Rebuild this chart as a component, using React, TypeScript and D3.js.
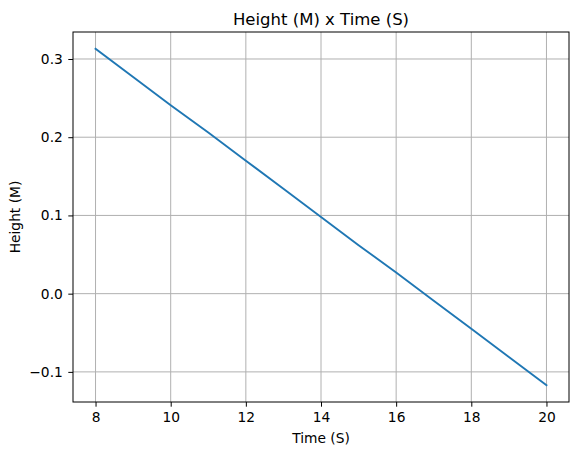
import React, { useEffect, useRef } from "react";
import * as d3 from "d3";

const times = [8, 9, 10, 11, 12, 13, 14, 15, 16, 17, 18, 19, 20];
const heights = [0.313, 0.277, 0.241, 0.206, 0.170, 0.134, 0.098, 0.062, 0.027, -0.009, -0.045, -0.081, -0.117];
const xTicks = [8, 10, 12, 14, 16, 18, 20];
const yTicks = [-0.1, 0.0, 0.1, 0.2, 0.3];

const W = 578, H = 455;
const margin = { left: 73, right: 9, top: 32, bottom: 53 };

export default function App() {
  const ref = useRef<SVGSVGElement>(null);

  useEffect(() => {
    document.body.style.margin = "0";
    const svg = d3.select(ref.current);
    svg.selectAll("*").remove();

    const x0 = d3.min(times) as number, x1 = d3.max(times) as number;
    const y0 = d3.min(heights) as number, y1 = d3.max(heights) as number;
    const px = (x1 - x0) * 0.05, py = (y1 - y0) * 0.05;

    const x = d3.scaleLinear()
      .domain([x0 - px, x1 + px])
      .range([margin.left, W - margin.right]);
    const y = d3.scaleLinear()
      .domain([y0 - py, y1 + py])
      .range([H - margin.bottom, margin.top]);

    const font = "DejaVu Sans, sans-serif";
    const g = svg.append("g");

    // grid
    g.selectAll(".vg").data(xTicks).join("line")
      .attr("x1", d => x(d)).attr("x2", d => x(d))
      .attr("y1", margin.top).attr("y2", H - margin.bottom)
      .attr("stroke", "#b0b0b0").attr("stroke-width", 1);
    g.selectAll(".hg").data(yTicks).join("line")
      .attr("y1", d => y(d)).attr("y2", d => y(d))
      .attr("x1", margin.left).attr("x2", W - margin.right)
      .attr("stroke", "#b0b0b0").attr("stroke-width", 1);

    // line
    const line = d3.line<number>()
      .x((_, i) => x(times[i]))
      .y(d => y(d));
    g.append("path")
      .datum(heights)
      .attr("d", line)
      .attr("fill", "none")
      .attr("stroke", "#1f77b4")
      .attr("stroke-width", 1.9)
      .attr("stroke-linecap", "square");

    // frame
    g.append("rect")
      .attr("x", margin.left).attr("y", margin.top)
      .attr("width", W - margin.left - margin.right)
      .attr("height", H - margin.top - margin.bottom)
      .attr("fill", "none").attr("stroke", "#000").attr("stroke-width", 1);

    // ticks
    const xAxis = svg.append("g")
      .attr("transform", `translate(0,${H - margin.bottom})`)
      .call(d3.axisBottom(x).tickValues(xTicks).tickSize(4.7).tickPadding(6).tickFormat(d3.format("d")));
    const yAxis = svg.append("g")
      .attr("transform", `translate(${margin.left},0)`)
      .call(d3.axisLeft(y).tickValues(yTicks).tickSize(4.7).tickPadding(5.5).tickFormat(d3.format(".1f")));
    [xAxis, yAxis].forEach(a => {
      a.select(".domain").remove();
      a.selectAll("text").attr("font-family", font).attr("font-size", 13.8).attr("fill", "#000");
      a.selectAll("line").attr("stroke", "#000");
    });
    yAxis.selectAll("text").text(d => d3.format(".1f")(d as number).replace("-", "\u2212"));

    // labels
    const cx = (margin.left + W - margin.right) / 2;
    svg.append("text")
      .attr("x", cx).attr("y", 25)
      .attr("text-anchor", "middle")
      .attr("font-family", font).attr("font-size", 16.5)
      .text("Height (M) x Time (S)");
    svg.append("text")
      .attr("x", cx).attr("y", 443)
      .attr("text-anchor", "middle")
      .attr("font-family", font).attr("font-size", 13.8)
      .text("Time (S)");
    svg.append("text")
      .attr("transform", `translate(19.5,${(margin.top + H - margin.bottom) / 2}) rotate(-90)`)
      .attr("text-anchor", "middle")
      .attr("font-family", font).attr("font-size", 13.8)
      .text("Height (M)");
  }, []);

  return <svg ref={ref} width={W} height={H} style={{ display: "block", background: "#fff" }} />;
}
